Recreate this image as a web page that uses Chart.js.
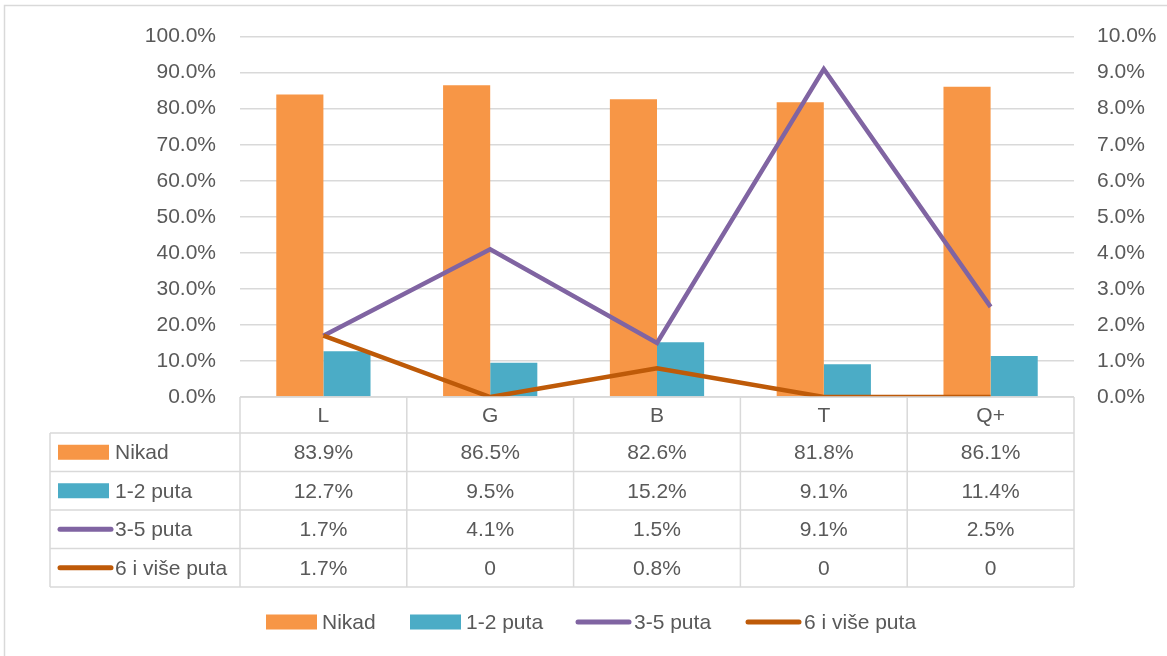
<!DOCTYPE html>
<html>
<head>
<meta charset="utf-8">
<script src="https://cdn.jsdelivr.net/npm/chart.js@4.4.1/dist/chart.umd.min.js"></script>
<style>
  html, body { margin: 0; padding: 0; background: #fff; }
  #wrap { width: 1167px; height: 656px; position: relative; }
</style>
</head>
<body>
<div id="wrap"><canvas id="mycanvas" width="1167" height="656"></canvas></div>
<script>
var categories = ["L", "G", "B", "T", "Q+"];
var nikad = [0.839, 0.865, 0.826, 0.818, 0.861];
var puta12 = [0.127, 0.095, 0.152, 0.091, 0.114];
var puta35 = [0.017, 0.041, 0.015, 0.091, 0.025];
var puta6 = [0.017, 0, 0.008, 0, 0];
var seriesNames = ["Nikad", "1-2 puta", "3-5 puta", "6 i više puta"];
var tableText = [
  ["83.9%", "86.5%", "82.6%", "81.8%", "86.1%"],
  ["12.7%", "9.5%", "15.2%", "9.1%", "11.4%"],
  ["1.7%", "4.1%", "1.5%", "9.1%", "2.5%"],
  ["1.7%", "0", "0.8%", "0", "0"]
];

var colors = ["#F79646", "#4BACC6", "#8064A2", "#BE5A08"];
var kinds = ["bar", "bar", "line", "line"];
var gridColor = "#D9D9D9";
var textColor = "#595959";
var font = "21px 'Liberation Sans', Arial, sans-serif";

function pct(v) { return (Math.round(v * 1000) / 10).toFixed(1) + "%"; }

function drawKey(ctx, kind, color, x, y) {
  if (kind == "bar") {
    ctx.fillStyle = color;
    ctx.fillRect(x, y - 7.5, 51, 15);
  } else {
    ctx.strokeStyle = color;
    ctx.lineWidth = 5;
    ctx.lineCap = "round";
    ctx.beginPath();
    ctx.moveTo(x + 2, y);
    ctx.lineTo(x + 53, y);
    ctx.stroke();
    ctx.lineCap = "butt";
  }
}

// data table under the plot + legend + frame
var tablePlugin = {
  id: "dataTable",
  afterDraw: function(chart) {
    var ctx = chart.ctx;
    var xs = chart.scales.x;
    var area = chart.chartArea;
    var half = (xs.getPixelForValue(1) - xs.getPixelForValue(0)) / 2;
    var left = 50, top = area.bottom, rowH = 38.5, headH = 36;
    var rows = [top + headH];
    for (var r = 1; r <= 4; r++) rows.push(top + headH + r * rowH);
    var bottom = rows[4];

    ctx.save();
    ctx.strokeStyle = gridColor;
    ctx.lineWidth = 1.5;
    ctx.beginPath();
    ctx.moveTo(area.left, top); ctx.lineTo(area.right, top);
    for (var i = 0; i < rows.length; i++) {
      ctx.moveTo(left, rows[i]); ctx.lineTo(area.right, rows[i]);
    }
    ctx.moveTo(left, rows[0]); ctx.lineTo(left, bottom);
    for (var c = 0; c < categories.length; c++) {
      var bx = xs.getPixelForValue(c) - half;
      ctx.moveTo(bx, top); ctx.lineTo(bx, bottom);
    }
    ctx.moveTo(area.right, top); ctx.lineTo(area.right, bottom);
    ctx.stroke();

    ctx.font = font;
    ctx.fillStyle = textColor;
    ctx.textBaseline = "middle";
    ctx.textAlign = "center";
    for (var c = 0; c < categories.length; c++) {
      var cx = xs.getPixelForValue(c);
      ctx.fillStyle = textColor;
      ctx.fillText(categories[c], cx, top + headH / 2 + 1);
      for (var r = 0; r < 4; r++) {
        ctx.fillText(tableText[r][c], cx, rows[r] + rowH / 2 + 1);
      }
    }
    for (var r = 0; r < 4; r++) {
      var cy = rows[r] + rowH / 2;
      drawKey(ctx, kinds[r], colors[r], 58, cy);
      ctx.fillStyle = textColor;
      ctx.textAlign = "left";
      ctx.fillText(seriesNames[r], 115, cy + 1);
    }

    // bottom legend
    var lx = [266, 410, 578, 748];
    for (var i = 0; i < 4; i++) {
      drawKey(ctx, kinds[i], colors[i], kinds[i] == "bar" ? lx[i] : lx[i] - 2, 622);
      ctx.fillStyle = textColor;
      ctx.textAlign = "left";
      ctx.fillText(seriesNames[i], lx[i] + 56, 623);
    }

    // chart frame (top and left)
    ctx.strokeStyle = gridColor;
    ctx.lineWidth = 1.5;
    ctx.beginPath();
    ctx.moveTo(4.5, 656); ctx.lineTo(4.5, 5.5); ctx.lineTo(1167, 5.5);
    ctx.stroke();
    ctx.restore();
  }
};

var ctx = document.getElementById("mycanvas");

var chartdata = {
  labels: categories,
  datasets: [
    { type: "bar", label: seriesNames[0], data: nikad, backgroundColor: colors[0], yAxisID: "y", order: 2 },
    { type: "bar", label: seriesNames[1], data: puta12, backgroundColor: colors[1], yAxisID: "y", order: 2 },
    { type: "line", label: seriesNames[2], data: puta35, borderColor: colors[2], backgroundColor: colors[2],
      borderWidth: 4.5, pointRadius: 0, tension: 0, fill: false, yAxisID: "y1", order: 1 },
    { type: "line", label: seriesNames[3], data: puta6, borderColor: colors[3], backgroundColor: colors[3],
      borderWidth: 4.5, pointRadius: 0, tension: 0, fill: false, yAxisID: "y1", order: 0 }
  ]
};

var myChart = new Chart(ctx, {
  type: "bar",
  data: chartdata,
  options: {
    responsive: false,
    animation: false,
    devicePixelRatio: 1,
    layout: { padding: { left: 0, right: 0, top: 34, bottom: 259 } },
    datasets: { bar: { categoryPercentage: 0.565, barPercentage: 1 } },
    plugins: { legend: { display: false }, tooltip: { enabled: false } },
    scales: {
      x: { display: false, offset: true },
      y: {
        position: "left", min: 0, max: 1,
        afterFit: function(s) { s.width = 240; },
        ticks: { stepSize: 0.1, padding: 24, color: textColor,
          font: { family: "'Liberation Sans', Arial, sans-serif", size: 21 },
          callback: function(v) { return pct(v); } },
        grid: { color: gridColor, lineWidth: 1.5, drawTicks: false },
        border: { display: false }
      },
      y1: {
        position: "right", min: 0, max: 0.1,
        afterFit: function(s) { s.width = 93; },
        ticks: { stepSize: 0.01, padding: 23, color: textColor,
          font: { family: "'Liberation Sans', Arial, sans-serif", size: 21 },
          callback: function(v) { return pct(v); } },
        grid: { drawOnChartArea: false, drawTicks: false },
        border: { display: false }
      }
    }
  },
  plugins: [tablePlugin]
});
</script>
</body>
</html>
